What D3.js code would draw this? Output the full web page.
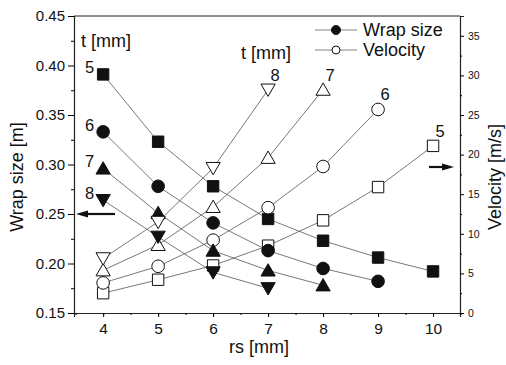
<!DOCTYPE html>
<html><head><meta charset="utf-8">
<script src="https://cdn.jsdelivr.net/npm/d3@7"></script>
<style>body{margin:0;background:#fff}svg{display:block;font-family:Arial,"Liberation Sans",sans-serif}</style>
</head><body><svg id="c" width="506" height="365"></svg>
<script>
const thicknesses = ["5", "6", "7", "8"];
const rs = [4, 5, 6, 7, 8, 9, 10];
const wrapSize = {
  "5": [0.391, 0.323, 0.278, 0.245, 0.223, 0.206, 0.192],
  "6": [0.333, 0.278, 0.241, 0.213, 0.195, 0.182],
  "7": [0.296, 0.251, 0.213, 0.193, 0.178],
  "8": [0.264, 0.227, 0.191, 0.175]
};
const velocity = {
  "5": [2.5, 4.2, 6.0, 8.5, 11.7, 15.9, 21.1],
  "6": [3.8, 5.9, 9.2, 13.3, 18.5, 25.7],
  "7": [5.4, 8.6, 13.4, 19.6, 28.2],
  "8": [6.9, 11.5, 18.3, 28.2]
};
const xTicks = [4, 5, 6, 7, 8, 9, 10];
const yLeftTicks = [0.15, 0.20, 0.25, 0.30, 0.35, 0.40, 0.45];
const yRightTicks = [0, 5, 10, 15, 20, 25, 30, 35];
const symbolsBySeries = {"5": "square", "6": "circle", "7": "up", "8": "down"};

const svg = d3.select("#c");
const L = 74, R = 460, T = 16, B = 313;
const x = d3.scaleLinear().domain([3.47, 10.49]).range([L, R]);
const yL = d3.scaleLinear().domain([0.15, 0.45]).range([B, T]);
const yR = d3.scaleLinear().domain([0, 37.5]).range([B, T]);

function symPath(kind) {
  if (kind === "square") return d3.symbol(d3.symbolSquare, 130)();
  if (kind === "circle") return d3.symbol(d3.symbolCircle, 125)();
  return d3.symbol(d3.symbolTriangle, 88)();
}

// frame
svg.append("line").attr("x1", L).attr("x2", R).attr("y1", T).attr("y2", T).attr("stroke", "#222").attr("stroke-width", 1);

// axes
const gx = svg.append("g").attr("transform", `translate(0,${B})`)
  .call(d3.axisBottom(x).tickValues(xTicks).tickFormat(d3.format("d")).tickSizeOuter(0).tickSize(4).tickPadding(6));
const gxm = svg.append("g").attr("transform", `translate(0,${B})`)
  .call(d3.axisBottom(x).tickValues(d3.range(3.5, 10.6, 0.5)).tickFormat("").tickSizeOuter(0).tickSize(2));
gxm.select(".domain").remove();
gx.selectAll("text").attr("font-size", 15.5).attr("fill", "#111");

const gl = svg.append("g").attr("transform", `translate(${L},0)`)
  .call(d3.axisLeft(yL).tickValues(yLeftTicks).tickFormat(d3.format(".2f")).tickSizeOuter(0).tickSize(6).tickPadding(3));
const glm = svg.append("g").attr("transform", `translate(${L},0)`)
  .call(d3.axisLeft(yL).tickValues(d3.range(0.175, 0.45, 0.05)).tickFormat("").tickSize(3));
glm.select(".domain").remove();
gl.selectAll("text").attr("font-size", 15).attr("fill", "#111");

const gr = svg.append("g").attr("transform", `translate(${R},0)`)
  .call(d3.axisRight(yR).tickValues(yRightTicks).tickFormat(d3.format("d")).tickSizeOuter(0).tickSize(4).tickPadding(4));
const grm = svg.append("g").attr("transform", `translate(${R},0)`)
  .call(d3.axisRight(yR).tickValues(d3.range(2.5, 37.5, 5)).tickFormat("").tickSize(2));
grm.select(".domain").remove();
gr.selectAll("text").attr("font-size", 10.5).attr("fill", "#111");
svg.selectAll(".domain").attr("stroke-width", 1.2).attr("stroke", "#222");

// axis titles
svg.append("text").attr("transform", `translate(23,177) rotate(-90)`).attr("text-anchor", "middle")
  .attr("font-size", 18).attr("fill", "#111").text("Wrap size [m]");
svg.append("text").attr("transform", `translate(501,177) rotate(-90)`).attr("text-anchor", "middle")
  .attr("font-size", 18).attr("fill", "#111").text("Velocity [m/s]");
svg.append("text").attr("x", 259).attr("y", 353).attr("text-anchor", "middle")
  .attr("font-size", 18).attr("fill", "#111").text("rs [mm]");

const line = d3.line();
const lines = svg.append("g");
const marks = svg.append("g");

thicknesses.forEach(t => {
  const kind = symbolsBySeries[t];
  const wPts = wrapSize[t].map((v, i) => [x(rs[i]), yL(v)]);
  const vPts = velocity[t].map((v, i) => [x(rs[i]), yR(v)]);
  lines.append("path").attr("d", line(wPts)).attr("fill", "none").attr("stroke", "#555").attr("stroke-width", 0.8);
  lines.append("path").attr("d", line(vPts)).attr("fill", "none").attr("stroke", "#555").attr("stroke-width", 0.8);
  const rot = kind === "down" ? " rotate(180)" : "";
  const dy = kind === "up" ? 1.5 : (kind === "down" ? -1.5 : 0);
  marks.selectAll(null).data(vPts).enter().append("path")
    .attr("d", symPath(kind)).attr("transform", d => `translate(${d[0]},${d[1] + dy})${rot}`)
    .attr("fill", "#fff").attr("stroke", "#111").attr("stroke-width", 1);
  marks.selectAll(null).data(wPts).enter().append("path")
    .attr("d", symPath(kind)).attr("transform", d => `translate(${d[0]},${d[1] + dy})${rot}`)
    .attr("fill", "#111").attr("stroke", "#111").attr("stroke-width", 1);
  // series labels
  const w0 = wPts[0];
  svg.append("text").attr("x", w0[0] - 9).attr("y", w0[1] - 1).attr("text-anchor", "end")
    .attr("font-size", 16.5).attr("fill", "#111").text(t);
  const vl = vPts[vPts.length - 1];
  svg.append("text").attr("x", vl[0] + 7).attr("y", vl[1] - 9).attr("text-anchor", "middle")
    .attr("font-size", 16.5).attr("fill", "#111").text(t);
});

svg.append("text").attr("x", 81).attr("y", 47).attr("font-size", 18).attr("fill", "#111").text("t [mm]");
svg.append("text").attr("x", 241).attr("y", 59).attr("font-size", 18).attr("fill", "#111").text("t [mm]");

// legend
const legend = [["Wrap size", "#111"], ["Velocity", "#fff"]];
legend.forEach((d, i) => {
  const ly = 30 + i * 20;
  svg.append("line").attr("x1", 315).attr("x2", 357).attr("y1", ly).attr("y2", ly)
    .attr("stroke", "#666").attr("stroke-width", 0.8);
  svg.append("circle").attr("cx", 336).attr("cy", ly).attr("r", i === 0 ? 4.5 : 4)
    .attr("fill", d[1]).attr("stroke", "#111").attr("stroke-width", 1);
  svg.append("text").attr("x", 363).attr("y", ly + 6).attr("font-size", 18).attr("fill", "#111").text(d[0]);
});

// arrows
function arrow(x1, x2, y) {
  const dir = Math.sign(x2 - x1);
  svg.append("line").attr("x1", x1).attr("x2", x2 - dir * 8).attr("y1", y).attr("y2", y)
    .attr("stroke", "#111").attr("stroke-width", 2.2);
  svg.append("path").attr("d", `M${x2},${y}L${x2 - dir * 12},${y - 3.5}L${x2 - dir * 12},${y + 3.5}Z`).attr("fill", "#111");
}
arrow(115, 76, yL(0.25));
arrow(429, 454, 167);
</script></body></html>
